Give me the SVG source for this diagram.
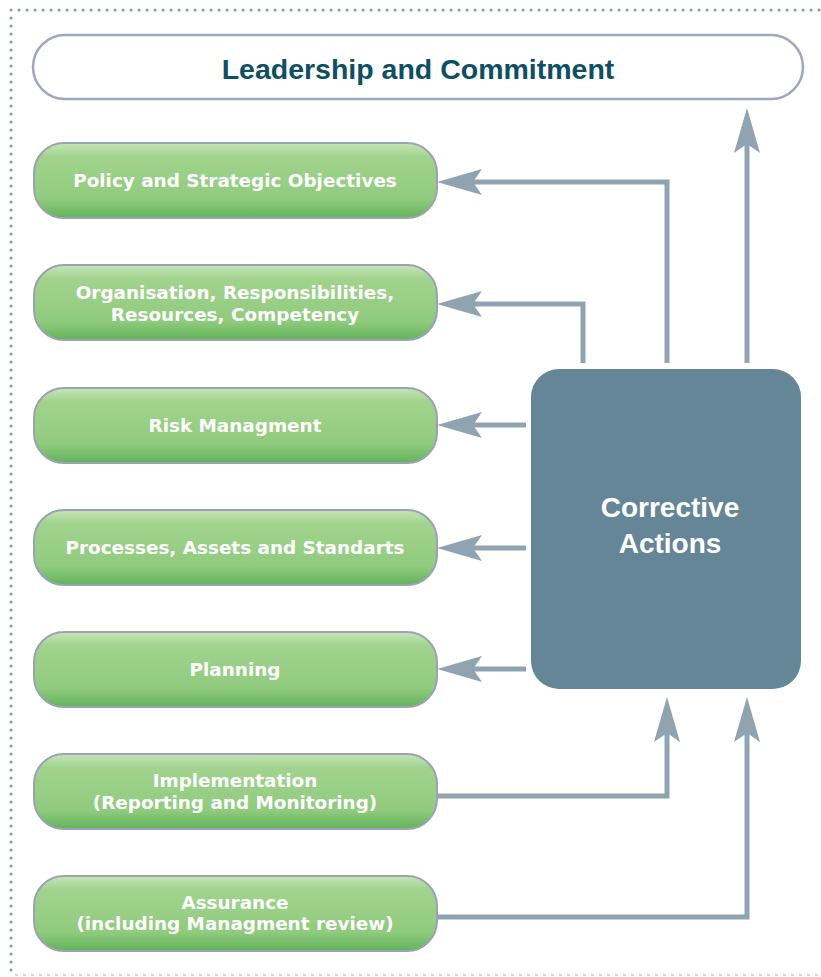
<svg xmlns="http://www.w3.org/2000/svg" width="821" height="977" viewBox="0 0 821 977">
  <defs>
    <linearGradient id="green" x1="0" y1="0" x2="0" y2="1">
      <stop offset="0" stop-color="#c6e6b8"/>
      <stop offset="0.18" stop-color="#a2d38e"/>
      <stop offset="0.75" stop-color="#90cb7e"/>
      <stop offset="1" stop-color="#62b35a"/>
    </linearGradient>
    <!-- notched arrowhead, tip at x=45; the line ends 12px before the tip -->
    <marker id="arrow" viewBox="0 0 46 28" refX="33" refY="14" markerWidth="46" markerHeight="28" markerUnits="userSpaceOnUse" orient="auto">
      <path d="M45,14 L0,1 L9,14 L0,27 Z" fill="#8fa3b0"/>
    </marker>
    <style>
      .frame { fill: none; stroke: #7f9cab; stroke-width: 3; stroke-linecap: round; stroke-dasharray: 0 8; }
      .frame-bottom { fill: none; stroke: #c8cdd2; stroke-width: 1.5; stroke-dasharray: 3 5; }
      .step rect { fill: url(#green); stroke: #9aa2b4; stroke-width: 2; }
      .step text { fill: #ffffff; font-family: "DejaVu Sans", "Liberation Sans", sans-serif; font-weight: bold; font-size: 18.4px; text-anchor: middle; }
      .link { fill: none; stroke: #8fa3b0; stroke-width: 5; }
      .head { marker-end: url(#arrow); }
      .title { font-family: "Liberation Sans", Arial, sans-serif; font-weight: bold; text-anchor: middle; }
    </style>
  </defs>

  <!-- dotted page frame -->
  <path class="frame" d="M11,10 H821"/>
  <path class="frame" d="M11,18 V977"/>
  <path class="frame-bottom" d="M15,975 H821"/>

  <!-- connectors -->
  <g id="connectors">
    <path class="link head" d="M667,363 V182 H449"/>
    <path class="link head" d="M583,363 V304 H449"/>
    <path class="link head" d="M747,363 V120"/>
    <path class="link head" d="M526,425 H449"/>
    <path class="link head" d="M526,548 H449"/>
    <path class="link head" d="M526,669 H449"/>
    <path class="link head" d="M438,796 H667 V709"/>
    <path class="link head" d="M438,917 H747 V709"/>
  </g>

  <g id="leadership">
    <rect x="33" y="35" width="770" height="64" rx="32" fill="#ffffff" stroke="#a2a4c2" stroke-width="2.5"/>
    <text class="title" x="418" y="79" fill="#0f4f63" font-size="28.5">Leadership and Commitment</text>
  </g>

  <g id="policy" class="step">
    <rect x="34" y="143" width="403" height="75" rx="30"/>
    <text x="235" y="187">Policy and Strategic Objectives</text>
  </g>

  <g id="organisation" class="step">
    <rect x="34" y="265" width="403" height="75" rx="30"/>
    <text x="235" y="299">Organisation, Responsibilities,</text>
    <text x="235" y="321">Resources, Competency</text>
  </g>

  <g id="risk" class="step">
    <rect x="34" y="388" width="403" height="75" rx="30"/>
    <text x="235" y="432">Risk Managment</text>
  </g>

  <g id="processes" class="step">
    <rect x="34" y="510" width="403" height="75" rx="30"/>
    <text x="235" y="554">Processes, Assets and Standarts</text>
  </g>

  <g id="planning" class="step">
    <rect x="34" y="632" width="403" height="75" rx="30"/>
    <text x="235" y="676">Planning</text>
  </g>

  <g id="implementation" class="step">
    <rect x="34" y="754" width="403" height="75" rx="30"/>
    <text x="235" y="787">Implementation</text>
    <text x="235" y="809">(Reporting and Monitoring)</text>
  </g>

  <g id="assurance" class="step">
    <rect x="34" y="876" width="403" height="75" rx="30"/>
    <text x="235" y="909">Assurance</text>
    <text x="235" y="930">(including Managment review)</text>
  </g>

  <g id="corrective">
    <rect x="531" y="369" width="270" height="320" rx="28" fill="#658697"/>
    <text class="title" x="670" y="517" fill="#ffffff" font-size="28">Corrective</text>
    <text class="title" x="670" y="553" fill="#ffffff" font-size="28">Actions</text>
  </g>
</svg>
